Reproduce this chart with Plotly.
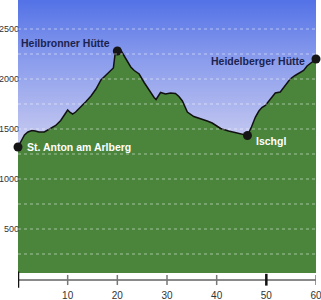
import plotly.graph_objects as go

# ---- data ----
km = [0, 0.6, 1.3, 2.0, 2.8, 3.5, 4.2, 5.3, 6.0, 6.6, 7.6, 8.6, 9.3, 10.0, 10.5, 11.0,
      11.6, 12.7, 13.7, 14.7, 15.7, 16.7, 17.5, 18.5, 19.2, 19.6, 20.0, 20.5, 21.0,
      21.7, 22.7, 23.4, 24.4, 25.4, 26.4, 27.4, 27.8, 28.7, 29.7, 30.7, 31.7, 32.4,
      33.1, 34.1, 35.4, 36.7, 38.1, 39.1, 40.8, 42.4, 44.1, 45.4, 46.2, 47.0, 47.8,
      48.5, 49.1, 49.8, 50.8, 51.8, 52.8, 53.8, 54.8, 55.8, 56.8, 57.5, 58.2, 59.2, 60.0]
elevation = [1320, 1370, 1440, 1470, 1485, 1480, 1470, 1470, 1490, 1515, 1535, 1585, 1635,
             1690, 1665, 1650, 1670, 1720, 1775, 1830, 1900, 1990, 2030, 2070, 2110, 2270,
             2280, 2305, 2260, 2200, 2120, 2085, 2050, 1965, 1885, 1815, 1795, 1865, 1850,
             1860, 1855, 1825, 1780, 1670, 1625, 1605, 1580, 1560, 1505, 1480, 1460, 1450,
             1435, 1520, 1620, 1680, 1715, 1735, 1800, 1860, 1870, 1935, 2000, 2035, 2065,
             2085, 2130, 2165, 2200]

place_names = ["St. Anton am Arlberg", "Heilbronner Hütte", "Ischgl", "Heidelberger Hütte"]
place_km = [0, 20.0, 46.2, 60.0]
place_elev = [1320, 2280, 1435, 2200]

y_ticks = [500, 1000, 1500, 2000, 2500]
grid_vals = [250, 500, 750, 1000, 1250, 1500, 1750, 2000, 2250, 2500]
x_ticks = [10, 20, 30, 40, 50, 60]

X_RANGE = [0, 60]
Y_RANGE = [60, 2790]

fig = go.Figure()

# sky gradient background
fig.add_trace(go.Scatter(
    x=[X_RANGE[0], X_RANGE[1], X_RANGE[1], X_RANGE[0], X_RANGE[0]],
    y=[Y_RANGE[0], Y_RANGE[0], Y_RANGE[1], Y_RANGE[1], Y_RANGE[0]],
    mode="none", fill="toself", hoverinfo="skip", showlegend=False,
    fillgradient=dict(type="vertical",
                      colorscale=[[0, "#eeeefa"], [0.5, "#c3c7f0"],
                                  [0.78, "#8a9cec"], [1, "#5372e6"]]),
))

# elevation profile
fig.add_trace(go.Scatter(
    x=km, y=elevation, mode="lines", fill="tozeroy",
    fillcolor="#4a853b", line=dict(color="#111111", width=1.5),
    hoverinfo="skip", showlegend=False,
))

# place markers
fig.add_trace(go.Scatter(
    x=place_km, y=place_elev, mode="markers", cliponaxis=False,
    marker=dict(size=9, color="#151515"), hoverinfo="skip", showlegend=False,
))

shapes = []
for g in grid_vals:
    shapes.append(dict(type="line", xref="x", yref="y", x0=X_RANGE[0], x1=X_RANGE[1],
                       y0=g, y1=g, layer="above",
                       line=dict(color="rgba(255,255,255,0.5)", width=1, dash="dot")))
for t in x_ticks:
    strong = (t == 50)
    shapes.append(dict(type="line", xref="x", yref="paper", x0=t, x1=t,
                       y0=-0.02 if strong else -0.018, y1=0.022 if strong else 0.018,
                       line=dict(color="#111111" if strong else "#777777",
                                 width=2.5 if strong else 1.5)))
shapes.append(dict(type="line", xref="x", yref="paper", x0=0, x1=0, y0=-0.028, y1=0.03,
                   line=dict(color="#111111", width=2.5)))

annotations = []
ann_style = {
    "St. Anton am Arlberg": dict(xanchor="left", xshift=7, yshift=0, color="#ffffff"),
    "Heilbronner Hütte": dict(xanchor="right", xshift=-5, yshift=8, color="#1b2350"),
    "Ischgl": dict(xanchor="left", xshift=7, yshift=-5, color="#ffffff"),
    "Heidelberger Hütte": dict(xanchor="right", xshift=-9, yshift=-2, color="#1b2350"),
}
for name, xv, yv in zip(place_names, place_km, place_elev):
    s = ann_style[name]
    annotations.append(dict(
        x=xv, y=yv, xref="x", yref="y", text=name, showarrow=False,
        xanchor=s["xanchor"], yanchor="middle", xshift=s["xshift"], yshift=s["yshift"],
        font=dict(family="Liberation Sans, Arial, sans-serif", size=10.5,
                  color=s["color"], weight="bold"),
    ))

fig.update_layout(
    width=321, height=300,
    margin=dict(l=18, r=5, t=0, b=20, autoexpand=False),
    paper_bgcolor="white", plot_bgcolor="white",
    shapes=shapes, annotations=annotations,
    xaxis=dict(range=X_RANGE, anchor="free", position=0, showgrid=False, zeroline=False,
               showline=True, linecolor="#8a8a8a", linewidth=2,
               tickvals=x_ticks, ticks="", ticklabelstandoff=6, ticklabeloverflow="allow",
               tickfont=dict(family="Liberation Sans, Arial, sans-serif", size=10,
                             color="#333333")),
    yaxis=dict(range=Y_RANGE, domain=[0.025, 1], showgrid=False, zeroline=False,
               showline=False, tickvals=y_ticks, ticks="", ticklabelstandoff=-2,
               ticklabeloverflow="allow",
               tickfont=dict(family="Liberation Sans Narrow, Arial Narrow, sans-serif",
                             size=9, color="#333333")),
)

fig.write_html("out.html")
